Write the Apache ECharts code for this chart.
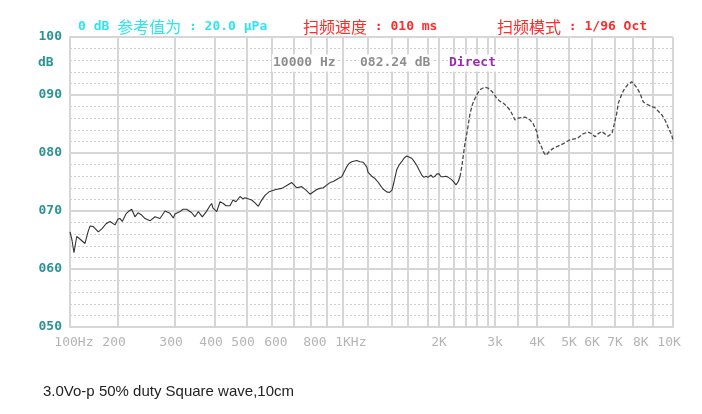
<!DOCTYPE html>
<html><head><meta charset="utf-8">
<script src="https://cdn.jsdelivr.net/npm/echarts@6/dist/echarts.min.js"></script>
<style>html,body{margin:0;padding:0;background:#fff}#c{width:702px;height:414px}</style>
</head><body><div id="c"></div>
<script>
// ---- data: response curve (frequency Hz, level dB) ----
const freqA = [100,102.9,105.9,110.2,113.9,117.2,124.2,129.7,133.5,140,150.5,159.4,168.2,178.2,191.5,200,
202.9,206.2,211.7,215.2,220.5,225.7,230.6,236.7,242.4,251.1,260.2,269.6,279.4,289.5,296.4,300,
311,317.8,326.3,338.3,346.4,354.7,365.1,374.9,385.9,390.6,394.3,400,
404.8,414.2,423.8,431.9,444.1,453.5,463.1,476.2,486.2,493.1,500,
517.4,530,543,553.8,570.1,587,600,
617,642.2,661.9,688.8,700,
715,743.7,769.2,793.7,800,
834.3,854.8,875.8,900,
918,938.2,969.6,991.5,1002,
1027,1045,1065.5,1105,1132,1159.5,1188.6,1200,
1228.9,1255,1279.7,1296,1321.4,1353,1377.8,1400,
1423.6,1456,1484,1518,1547,1582.7,1600,
1635,1657.5,1684,1707,1734.5,1758,1778.9,1800,
1852.5,1888,1924.7,1962,2000,
2025.6,2055,2091,2121.8,2158.4,2190,
2232,2264.7,2298];
const dbA = [66.4,65.0,62.8,65.6,65.3,65.0,64.4,66.4,67.4,67.3,66.4,67.0,67.8,68.2,67.6,68.6,
68.7,68.2,69.5,69.9,70.3,69.0,69.7,69.3,68.7,68.3,69.0,68.7,70.0,69.6,68.8,69.5,
69.9,70.3,70.3,69.7,69.0,69.9,69.0,69.8,70.9,71.3,70.5,70.2,
69.9,71.6,71.3,70.9,70.9,71.9,71.6,72.5,72.1,72.3,72.2,
71.9,71.4,70.8,71.7,72.7,73.3,73.5,
73.7,73.9,74.3,74.9,74.5,
74.0,74.2,73.6,72.9,73.1,
73.7,73.9,74.0,74.5,
74.9,75.1,75.6,75.9,76.2,
77.6,78.2,78.5,78.7,78.5,78.4,77.6,76.7,
76.0,75.6,75.0,74.5,73.8,73.3,73.2,73.6,
75.0,77.1,77.9,78.5,79.1,79.5,79.4,
79.1,78.6,77.9,77.1,76.2,75.8,76.0,75.8,
76.2,75.8,76.0,76.4,76.4,
75.9,75.9,76.0,75.8,75.5,75.1,
74.5,75.0,75.9];
const freqB = [2298,2331,2382.6,2426,2470.8,2516,2562,2600,2653,2707,2753,2800,2855.7,2927,3000,
3034.4,3102,3172,3240,3317,3385,3430,3500,
3549,3676,3808,3897,4000,
4036,4133,4200,4259,4379,4481,4631,4805,5000,
5161,5327,5587,5812,6000,
6122,6246,6403,6546,6680,6770,6861,6954,
7089,7174,7318,7444,7539,7708,7923,8000,
8176,8336,8500,8688,8931,
9095,9255,9422,9588,9740,9932,10000];
const dbB = [75.9,77.9,81.7,84.0,86.8,88.4,89.4,90.1,90.9,91.2,91.3,91.2,91.0,90.5,89.9,
89.4,88.9,88.6,88.1,87.4,86.4,85.7,86.0,
86.1,86.2,85.7,85.0,83.6,
82.2,81.0,80.0,79.6,80.4,80.8,81.2,81.6,82.2,
82.4,82.5,83.3,83.6,83.3,
82.8,83.3,83.7,83.3,82.9,82.8,83.4,84.8,
86.8,88.6,89.8,90.7,91.2,91.8,92.3,92.2,
91.3,90.3,88.8,88.4,88.0,
87.8,87.2,86.6,85.7,84.5,83.1,82.2];

// ---- axis ticks ----
const gridFreqs = [100,200,300,400,500,600,700,800,900,1000,1200,1400,1600,1800,2000,2200,2400,2600,2800,3000,3500,4000,5000,6000,7000,8000,9000,10000];
const labelFreqs = [100,200,300,400,500,600,800,1000,2000,3000,4000,5000,6000,7000,8000,10000];
const tickLabels = [' 100Hz','200 ','300 ','400 ','500 ',' 600',' 800','  1KHz','2K','3k','4K','5K','6K','7K','  8K','10K '];
const yMin = 50, yMax = 100, yStep = 10;

// analyser's (non-uniform) frequency scale: anchor frequencies and their relative axis positions
const scaleFreq = [100,200,300,400,500,600,700,800,900,1000,1200,1400,1600,1800,2000,2200,2400,2600,2800,3000,3500,4000,5000,6000,7000,8000,9000,10000];
const scalePos  = [0,48,105,145,177,202,224,241,257,273,298,322,338,358,369,384,396,407,418,425,448,467,499,522,545,563,583,603];
function warp(f){
  for(let i=0;i<scaleFreq.length-1;i++){
    if(f<=scaleFreq[i+1]||i===scaleFreq.length-2){
      const t=Math.log(f/scaleFreq[i])/Math.log(scaleFreq[i+1]/scaleFreq[i]);
      return scalePos[i]+t*(scalePos[i+1]-scalePos[i]);
    }
  }
}
const xMax = scalePos[scalePos.length-1];
const labelPos = labelFreqs.map(warp);

const mono = '"DejaVu Sans Mono", "Liberation Mono", monospace';
const cjk = '"Noto Sans CJK SC", sans-serif';
const teal = '#2a9494';

const chart = echarts.init(document.getElementById('c'), null, {renderer:'canvas'});
chart.setOption({
  animation:false,
  backgroundColor:'#fff',
  grid:{left:70,right:29,top:37,bottom:87},
  xAxis:{
    type:'value', min:0, max:xMax,
    axisLine:{show:true,lineStyle:{color:'#d6d6d6',width:2}},
    axisTick:{show:false, customValues:gridFreqs.map(warp)},
    splitLine:{show:true,lineStyle:{color:'#d6d6d6',width:2}},
    axisLabel:{
      customValues:labelPos, margin:9, color:'#b4b4b4',
      fontFamily:mono, fontSize:13,
      formatter:function(v){
        for(let i=0;i<labelPos.length;i++){ if(Math.abs(labelPos[i]-v)<0.01) return tickLabels[i]; }
        return '';
      }
    }
  },
  yAxis:{
    type:'value', min:yMin, max:yMax, interval:yStep,
    axisLine:{show:true,lineStyle:{color:'#d6d6d6',width:2}},
    axisTick:{show:false},
    splitLine:{show:true,lineStyle:{color:'#d6d6d6',width:2}},
    minorTick:{show:false,splitNumber:5},
    minorSplitLine:{show:true,lineStyle:{color:'#cdcdcd',width:1,type:[2,2]}},
    axisLabel:{
      margin:8, color:teal, fontFamily:mono, fontSize:13, fontWeight:'bold',
      formatter:function(v){return String(v).padStart(3,'0');}
    }
  },
  series:[
    {type:'line', showSymbol:false, data:freqA.map((f,i)=>[warp(f),dbA[i]]),
     lineStyle:{color:'#333',width:1.1}},
    {type:'line', showSymbol:false, data:freqB.map((f,i)=>[warp(f),dbB[i]]),
     lineStyle:{color:'#4a4a4a',width:1.3,type:[4,2]}}
  ],
  graphic:[
    {type:'text',x:78,y:27,z:100,style:{text:'{a|0 dB }{c|参考值为}{a| : 20.0 μPa}',verticalAlign:'middle',
      rich:{a:{fontFamily:mono,fontSize:13,fontWeight:'bold',fill:'#2ee4f0'},c:{fontFamily:cjk,fontSize:16,fill:'#2ee4f0'}}}},
    {type:'text',x:303,y:27,z:100,style:{text:'{c|扫频速度}{a| : 010 ms}',verticalAlign:'middle',
      rich:{a:{fontFamily:mono,fontSize:13,fontWeight:'bold',fill:'#ff2a2a'},c:{fontFamily:cjk,fontSize:16,fill:'#ff2a2a'}}}},
    {type:'text',x:497,y:27,z:100,style:{text:'{c|扫频模式}{a| : 1/96 Oct}',verticalAlign:'middle',
      rich:{a:{fontFamily:mono,fontSize:13,fontWeight:'bold',fill:'#ff2a2a'},c:{fontFamily:cjk,fontSize:16,fill:'#ff2a2a'}}}},
    {type:'text',x:38,y:63,z:100,style:{text:'dB',verticalAlign:'middle',font:'bold 13px '+mono,fill:teal}},
    {type:'text',x:272,y:63,z:100,style:{text:'10000 Hz',verticalAlign:'middle',font:'bold 13px '+mono,fill:'#8e8e8e',backgroundColor:'#fff',padding:[2,1]}},
    {type:'text',x:359,y:63,z:100,style:{text:'082.24 dB',verticalAlign:'middle',font:'bold 13px '+mono,fill:'#8e8e8e',backgroundColor:'#fff',padding:[2,1]}},
    {type:'text',x:448,y:63,z:100,style:{text:'Direct',verticalAlign:'middle',font:'bold 13px '+mono,fill:'#9a2cae',backgroundColor:'#fff',padding:[2,1]}},
    {type:'text',x:43,y:392,z:100,style:{text:'3.0Vo-p 50% duty Square wave,10cm',verticalAlign:'middle',font:'15px "Liberation Sans", Arial, sans-serif',fill:'#222'}}
  ]
});
</script></body></html>
